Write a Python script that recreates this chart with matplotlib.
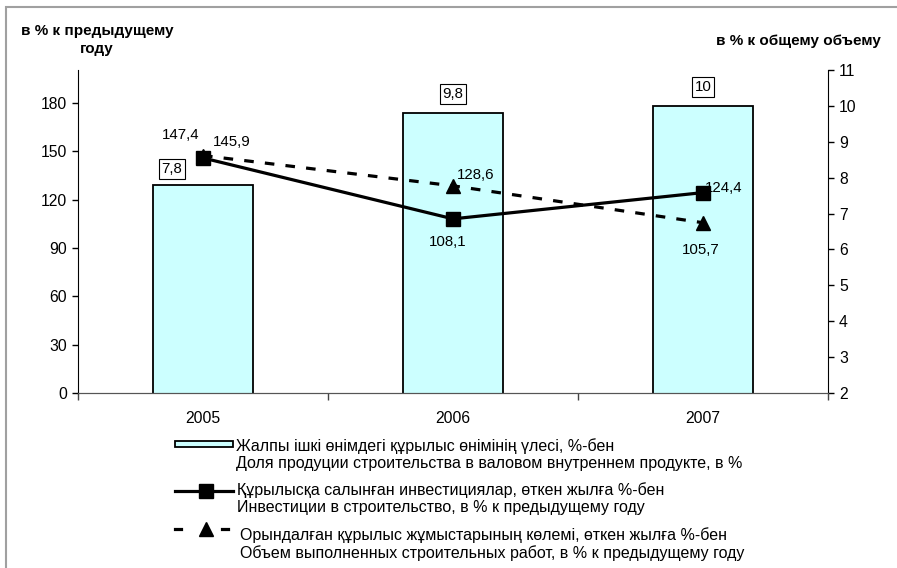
import matplotlib
matplotlib.use("Agg")
import matplotlib.pyplot as plt
from matplotlib.lines import Line2D
from matplotlib.patches import Rectangle

plt.rcParams['font.family'] = ['Liberation Sans', 'DejaVu Sans']

years = ['2005', '2006', '2007']
share_gdp = [7.8, 9.8, 10.0]
invest = [145.9, 108.1, 124.4]
volume = [147.4, 128.6, 105.7]

share_labels = ['7,8', '9,8', '10']
invest_labels = ['145,9', '108,1', '124,4']
volume_labels = ['147,4', '128,6', '105,7']

legend_texts = [
    'Жалпы ішкі өнімдегі құрылыс өнімінің үлесі, %-бен\n'
    'Доля продуции строительства в валовом внутреннем продукте, в %',
    'Құрылысқа салынған инвестициялар, өткен жылға %-бен\n'
    'Инвестиции в строительство, в % к предыдущему году',
    'Орындалған құрылыс жұмыстарының көлемі, өткен жылға %-бен\n'
    'Объем выполненных строительных работ, в % к предыдущему году',
]

W, H = 897, 568
fig = plt.figure(figsize=(W / 100, H / 100), dpi=100)

def fx(px):
    return px / W

def fy(py):
    return 1 - py / H

ax = fig.add_axes([fx(78), fy(393), fx(828) - fx(78), fy(70) - fy(393)])
ax2 = ax.twinx()
ax.set_zorder(ax2.get_zorder() + 1)
ax.patch.set_visible(False)

x = list(range(len(years)))
tick_fs = 11.3
lab_fs = 10.8
leg_fs = 11.5
title_fs = 11

# bars on right axis
ax2.bar(x, share_gdp, width=0.4, color='#CCFFFF', edgecolor='black', linewidth=1.3, zorder=2)
ax2.set_ylim(2, 11)
ax2.set_yticks(range(2, 12))
ax2.tick_params(axis='y', labelsize=tick_fs, length=4, width=1, pad=4)
offs_bar = [(-31, 16), (0, 19), (0, 19)]
for xi, v, lab, off in zip(x, share_gdp, share_labels, offs_bar):
    ax2.annotate(lab, (xi, v), xytext=off, textcoords='offset pixels',
                 ha='center', va='center', fontsize=lab_fs,
                 bbox=dict(boxstyle='square,pad=0.2', fc='white', ec='black', lw=0.8))

# lines on left axis
ax.plot(x, invest, color='black', lw=2.3, marker='s', ms=9.5, zorder=4)
ax.plot(x, volume, color='black', lw=2.3, ls=(0, (3, 3.5)), marker='^', ms=10, zorder=3)
offs_inv = [(29, 16), (-5, -23), (21, 5)]
offs_vol = [(-22, 21), (23, 11), (-2, -27)]
for xi, v, lab, off in zip(x, invest, invest_labels, offs_inv):
    ax.annotate(lab, (xi, v), xytext=off, textcoords='offset pixels',
                ha='center', va='center', fontsize=lab_fs)
for xi, v, lab, off in zip(x, volume, volume_labels, offs_vol):
    ax.annotate(lab, (xi, v), xytext=off, textcoords='offset pixels',
                ha='center', va='center', fontsize=lab_fs)

ax.set_ylim(0, 200.5)
ax.set_yticks(range(0, 181, 30))
ax.tick_params(axis='y', labelsize=tick_fs, length=4, width=1, pad=4)
ax.set_xlim(-0.5, 2.5)
ax.set_xticks([-0.5, 0.5, 1.5, 2.5])
ax.set_xticklabels([])
ax.set_xticks(x, minor=True)
ax.set_xticklabels(years, minor=True)
ax.tick_params(axis='x', which='major', length=5, width=1, color='#444444')
ax.tick_params(axis='x', which='minor', length=0, pad=13, labelsize=tick_fs)

for a in (ax, ax2):
    a.spines['top'].set_visible(False)
    a.spines['bottom'].set_color('#555555')
ax.spines['right'].set_visible(False)
ax2.spines['left'].set_visible(False)

# axis titles
fig.text(fx(97), fy(40), 'в % к предыдущему\nгоду', ha='center', va='center',
         fontsize=title_fs, fontweight='bold', multialignment='center', linespacing=1.36)
fig.text(fx(881), fy(41), 'в % к общему объему', ha='right', va='center',
         fontsize=title_fs, fontweight='bold')

# legend
fig.add_artist(Rectangle((fx(175), fy(447)), fx(233) - fx(175), fy(441) - fy(447),
                         transform=fig.transFigure, fc='#CCFFFF', ec='black', lw=1.3))
fig.add_artist(Line2D([fx(175), fx(233)], [fy(491), fy(491)], transform=fig.transFigure,
                      color='black', lw=2.3))
fig.add_artist(Line2D([fx(206)], [fy(491)], transform=fig.transFigure,
                      color='black', marker='s', ms=9.5))
fig.add_artist(Line2D([fx(175), fx(181)], [fy(529), fy(529)], transform=fig.transFigure,
                      color='black', lw=2.3))
fig.add_artist(Line2D([fx(222), fx(228)], [fy(529), fy(529)], transform=fig.transFigure,
                      color='black', lw=2.3))
fig.add_artist(Line2D([fx(206)], [fy(529)], transform=fig.transFigure,
                      color='black', marker='^', ms=10))
for txt, ty, tx in zip(legend_texts, [455, 499, 544], [236, 237, 240]):
    fig.text(fx(tx), fy(ty), txt, ha='left', va='center', fontsize=leg_fs, linespacing=1.17)

# outer frame
fig.add_artist(Rectangle((fx(6), -0.1), 2, fy(7) + 0.1, transform=fig.transFigure,
                         fill=False, ec='#A0A0A0', lw=1.5))

fig.savefig('out.png', dpi=100)
